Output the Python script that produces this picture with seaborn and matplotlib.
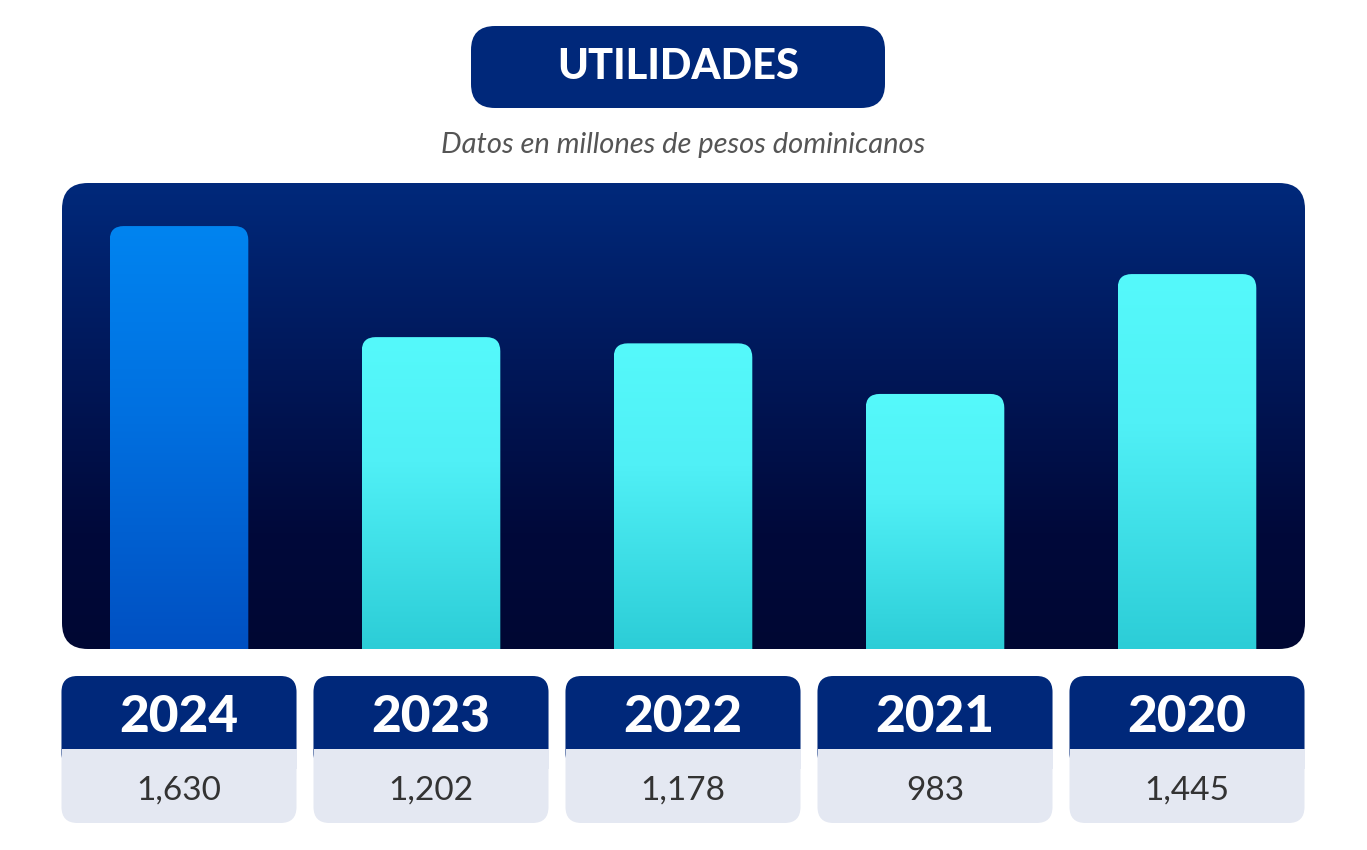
import numpy as np
import pandas as pd
import matplotlib
matplotlib.use("Agg")
import matplotlib.pyplot as plt
import seaborn as sns
from matplotlib.patches import FancyBboxPatch, Rectangle
from matplotlib.colors import LinearSegmentedColormap

# data
years = ["2024", "2023", "2022", "2021", "2020"]
utilidades = [1630, 1202, 1178, 983, 1445]
value_labels = ["1,630", "1,202", "1,178", "983", "1,445"]

title = "UTILIDADES"
subtitle = "Datos en millones de pesos dominicanos"

NAVY = "#00287a"
W, H = 1367, 850

sns.set_theme(style="white")
plt.rcParams['font.family'] = ['Lato', 'DejaVu Sans']

fig = plt.figure(figsize=(W / 100, H / 100), dpi=100)
fig.patch.set_facecolor("white")

# background axes in pixel coordinates (origin top-left)
bg = fig.add_axes([0, 0, 1, 1], zorder=0)
bg.set_xlim(0, W)
bg.set_ylim(H, 0)
bg.axis("off")


def gradient_box(ax, x0, y0, x1, y1, stops, rad, zorder, clip_extra=0):
    # rounded box filled with a vertical gradient
    # clip_extra pushes the rounded bottom out of the image -> square bottom corners
    cmap = LinearSegmentedColormap.from_list("g", stops)
    grad = np.linspace(0, 1, 256).reshape(-1, 1)
    clip = FancyBboxPatch((x0, y0), x1 - x0, (y1 - y0) + clip_extra,
                          boxstyle=f"round,pad=0,rounding_size={rad}",
                          transform=ax.transData, facecolor="none", edgecolor="none")
    ax.add_patch(clip)
    im = ax.imshow(grad, cmap=cmap, aspect="auto", extent=(x0, x1, y1, y0),
                   zorder=zorder, interpolation="bilinear")
    im.set_clip_path(clip)
    return im


# title pill
bg.add_patch(FancyBboxPatch((471, 26), 414, 82, boxstyle="round,pad=0,rounding_size=24",
                            facecolor=NAVY, edgecolor="none"))
bg.text(678, 67, title, color="white", fontsize=30, fontweight="black",
        ha="center", va="center")
bg.text(683, 145, subtitle, color="#555555", fontsize=21, style="italic",
        ha="center", va="center")

# dark panel
panel_stops = [(0, "#01297b"), (0.4, "#001758"), (0.75, "#00093a"), (1, "#000733")]
gradient_box(bg, 62, 183, 1305, 649, panel_stops, 26, 1)
bg.set_xlim(0, W)
bg.set_ylim(H, 0)

# bar axes, aligned to the panel bottom
ax = fig.add_axes([53 / W, (H - 649) / H, 1260 / W, 466 / H], zorder=1)
ax.patch.set_alpha(0)
df = pd.DataFrame({"year": years, "value": utilidades})
sns.barplot(data=df, x="year", y="value", width=0.55, color=NAVY, ax=ax)
ax.set_xlim(-0.5, 4.5)
ax.set_ylim(0, 1796)
ax.axis("off")

fig.canvas.draw()
to_px = ax.transData + bg.transData.inverted()
for i, bar in enumerate(ax.patches):
    bar.set_visible(False)
    (x0, y1), (x1, y0) = to_px.transform([(bar.get_x(), 0),
                                          (bar.get_x() + bar.get_width(), bar.get_height())])
    if i == 0:
        stops = [(0, "#0084f0"), (0.45, "#0070e0"), (1, "#0050c2")]
    else:
        stops = [(0, "#55f9fb"), (0.4, "#50f0f6"), (1, "#2ccdd7")]
    gradient_box(bg, x0, y0, x1, y1, stops, 14, 2, clip_extra=30)

    # year / value cards below
    cx = (x0 + x1) / 2
    cw = 235
    card_top, mid, card_bot = 676, 749, 823
    bg.add_patch(FancyBboxPatch((cx - cw / 2, card_top), cw, card_bot - card_top,
                                boxstyle="round,pad=0,rounding_size=16",
                                facecolor="#e4e8f2", edgecolor="none", zorder=2))
    bg.add_patch(FancyBboxPatch((cx - cw / 2, card_top), cw, (mid - card_top) + 20,
                                boxstyle="round,pad=0,rounding_size=16",
                                facecolor=NAVY, edgecolor="none", zorder=3))
    bg.add_patch(Rectangle((cx - cw / 2, mid), cw, 20, facecolor="#e4e8f2",
                           edgecolor="none", zorder=3))
    bg.text(cx, (card_top + mid) / 2 + 5, years[i], color="white", fontsize=37,
            fontweight="black", ha="center", va="center", zorder=4)
    bg.text(cx, (mid + card_bot) / 2 + 5, value_labels[i], color="#333333", fontsize=24,
            ha="center", va="center", zorder=4)

bg.set_xlim(0, W)
bg.set_ylim(H, 0)

fig.savefig("out.png", dpi=100, facecolor="white")
